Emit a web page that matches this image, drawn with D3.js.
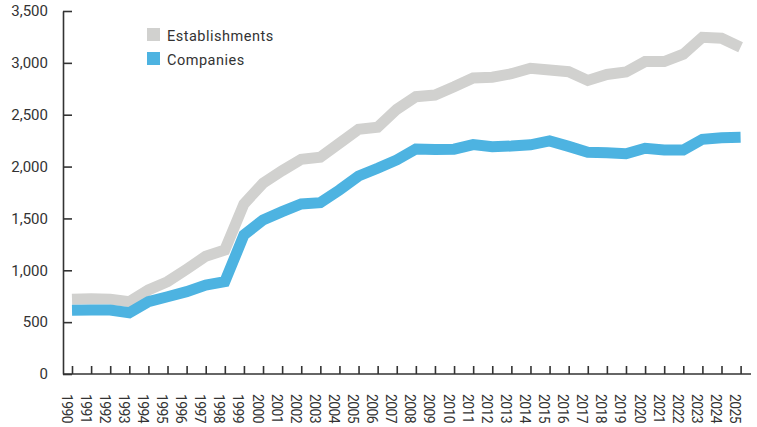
<!DOCTYPE html>
<html>
<head>
<meta charset="utf-8">
<script src="https://cdn.jsdelivr.net/npm/d3@7"></script>
<style>
  body { margin: 0; background: #fff; }
  svg text { font-family: Roboto, "DejaVu Sans", sans-serif; fill: #333; }
  .axis path, .axis line { stroke: #333; stroke-width: 1.6; }
</style>
</head>
<body>
<div id="container"></div>
<script>
var years = d3.range(1990, 2026);
var establishments = [720, 726, 722, 697, 810, 890, 1010, 1135, 1196, 1640,
  1839, 1960, 2070, 2090, 2225, 2360, 2379, 2552, 2674, 2690,
  2770, 2855, 2862, 2895, 2948, 2931, 2915, 2830, 2888, 2912,
  3012, 3012, 3083, 3247, 3237, 3150];
var companies = [614, 617, 617, 591, 697, 745, 794, 858, 890, 1340,
  1485, 1565, 1640, 1652, 1774, 1909, 1984, 2064, 2170, 2165,
  2168, 2212, 2192, 2198, 2210, 2248, 2195, 2138, 2134, 2124,
  2176, 2160, 2160, 2263, 2278, 2282];
var yTicks = [0, 500, 1000, 1500, 2000, 2500, 3000, 3500];
var seriesNames = ["Establishments", "Companies"];
var seriesColors = ["#d1d1cf", "#4db3e1"];

var width = 757, height = 427;

var svg = d3.select("#container")
  .append("svg")
  .attr("width", width)
  .attr("height", height);

var x = d3.scaleLinear().domain([1990, 2025]).range([72, 740.6]);
var y = d3.scaleLinear().domain([0, 3500]).range([374, 11]);

// y axis, ticks pointing inward
var yAxis = svg.append("g")
  .attr("class", "axis")
  .attr("transform", "translate(63,0)")
  .call(d3.axisLeft(y)
    .tickValues(yTicks)
    .tickSizeInner(-9)
    .tickSizeOuter(0)
    .tickPadding(15)
    .tickFormat(d3.format(",")));
yAxis.selectAll("text").style("font-size", "15px").attr("fill", "#333");

// x axis
var xAxis = svg.append("g")
  .attr("class", "axis")
  .attr("transform", "translate(0,374)")
  .call(d3.axisBottom(x)
    .tickValues(years)
    .tickSizeInner(-8)
    .tickSizeOuter(0)
    .tickFormat(d3.format("d")));
xAxis.select(".domain").remove();
xAxis.append("line")
  .attr("x1", 63).attr("x2", 751)
  .attr("y1", 0).attr("y2", 0);
xAxis.selectAll("text")
  .style("font-size", "14px")
  .style("letter-spacing", "-0.6px")
  .attr("fill", "#333")
  .attr("text-anchor", "start")
  .attr("transform", "rotate(90)")
  .attr("x", 20)
  .attr("y", 11)
  .attr("dy", 0);

var line = d3.line()
  .x(function (d, i) { return x(years[i]); })
  .y(function (d) { return y(d); });

[establishments, companies].forEach(function (values, i) {
  svg.append("path")
    .datum(values)
    .attr("fill", "none")
    .attr("stroke", seriesColors[i])
    .attr("stroke-width", 11)
    .attr("stroke-linejoin", "miter")
    .attr("d", line);
});

// legend
var legend = svg.append("g").attr("transform", "translate(147,28)");
seriesNames.forEach(function (name, i) {
  var row = legend.append("g").attr("transform", "translate(0," + (i * 24) + ")");
  row.append("rect")
    .attr("width", 13).attr("height", 13)
    .attr("fill", seriesColors[i]);
  row.append("text")
    .attr("x", 20).attr("y", 12.5)
    .style("font-size", "14.5px")
    .style("letter-spacing", "0.5px")
    .text(name);
});
</script>
</body>
</html>
